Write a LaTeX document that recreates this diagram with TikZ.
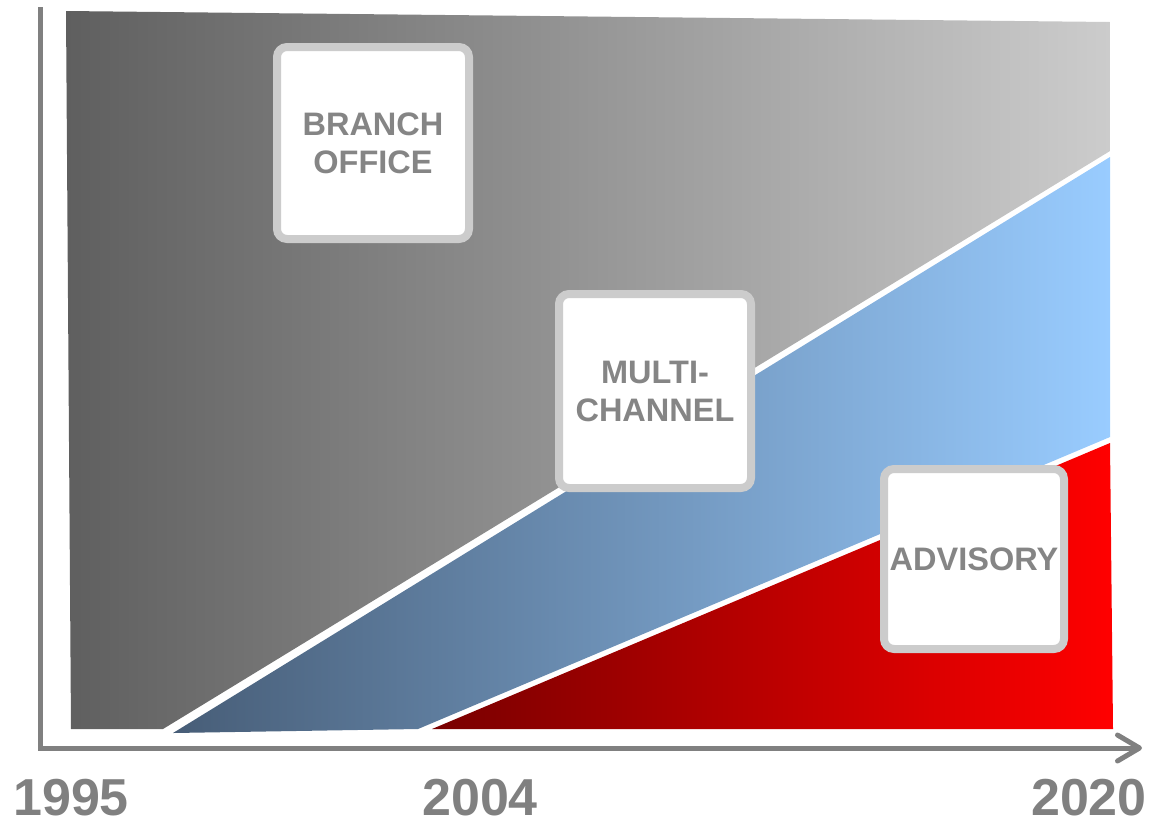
\documentclass[tikz,border=0pt]{standalone}
\usepackage{fontspec}
\setmainfont{Liberation Sans}
\usetikzlibrary{arrows.meta}
\definecolor{axisgray}{HTML}{808080}
\definecolor{framegray}{HTML}{CCCCCC}
\definecolor{labelgray}{HTML}{858585}
\definecolor{branchdark}{HTML}{5F5F5F}
\definecolor{branchlight}{HTML}{CCCCCC}
\definecolor{multidark}{HTML}{475D77}
\definecolor{multilight}{HTML}{99CCFF}
\definecolor{advisorydark}{HTML}{780000}
\definecolor{advisorylight}{HTML}{FF0000}

\begin{document}
\begin{tikzpicture}[
        x=1pt,
        y=-1pt,
        axis/.style={
                draw=axisgray,
                line width=5pt
            },
        channel/.style={
                rectangle,
                rounded corners=10pt,
                draw=framegray,
                line width=8pt,
                fill=white,
                align=center,
                text=labelgray,
                inner sep=0pt,
                minimum width=192pt,
                minimum height=192pt,
                font=\fontsize{32.5}{38}\selectfont\bfseries
            },
        year/.style={
                text=axisgray,
                inner sep=0pt,
                font=\fontsize{52}{60}\selectfont\bfseries
            }
    ]

    \useasboundingbox (0,0) rectangle (1153,823);

    \shade[left color=branchdark, right color=branchlight]
        (66,11) -- (1110,22) -- (1110,151) -- (163,729) -- (71,729) -- cycle;
    \shade[left color=multidark, right color=multilight]
        (173,733) -- (1110,157) -- (1110,437) -- (418,729) -- cycle;
    \shade[left color=advisorydark, right color=advisorylight]
        (432,729) -- (1110,443) -- (1113,729) -- cycle;

    \coordinate (ytop) at (40,7);
    \coordinate (origin) at (40,748);
    \coordinate (xend) at (1142,748);
    \draw[axis, -{Straight Barb[round, length=22pt, width=26pt]}]
        (ytop) -- (origin) -- (xend);

    \node[channel] (branch) at (373,143) {BRANCH\\OFFICE};
    \node[channel, minimum height=194pt] (multi) at (655,391) {MULTI-\\CHANNEL};
    \node[channel, minimum width=180pt, minimum height=180pt] (advisory) at (974,559) {ADVISORY};

    \node[year, anchor=base west] (y1995) at (13,815) {1995};
    \node[year, anchor=base west] (y2004) at (422,815) {2004};
    \node[year, anchor=base east] (y2020) at (1147,815) {2020};

\end{tikzpicture}
\end{document}
